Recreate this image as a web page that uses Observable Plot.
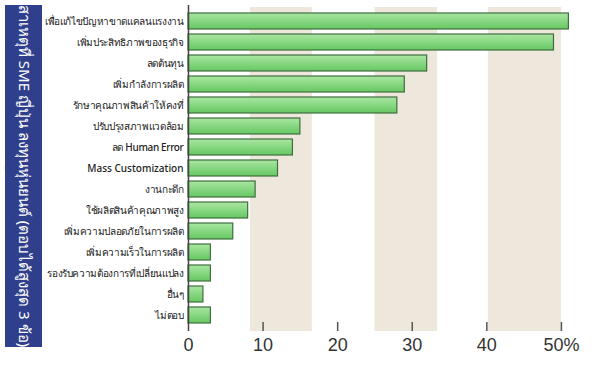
<!DOCTYPE html>
<html><head><meta charset="utf-8">
<script src="https://cdn.jsdelivr.net/npm/d3@7"></script>
<script src="https://cdn.jsdelivr.net/npm/@observablehq/plot@0.6"></script>
<style>
body{margin:0;background:#fff;}
#wrap{position:relative;width:600px;height:366px;}
#side{position:absolute;left:5px;top:5px;width:37px;height:342px;background:#2f3f8c;}
#side span{position:absolute;left:50%;top:50%;transform:translate(-50%,-50%) rotate(90deg);white-space:nowrap;color:#fff;font:15px "Noto Sans", sans-serif;}
</style></head>
<body><div id="wrap"><div id="chart"></div><div id="side"><span>สาเหตุที่ SME ญี่ปุ่น ลงทุนหุ่นยนต์ (ตอบได้สูงสุด 3 ข้อ)</span></div></div>
<script>
const categories = ["เพื่อแก้ไขปัญหาขาดแคลนแรงงาน","เพิ่มประสิทธิภาพของธุรกิจ","ลดต้นทุน","เพิ่มกำลังการผลิต","รักษาคุณภาพสินค้าให้คงที่","ปรับปรุงสภาพแวดล้อม","ลด Human Error","Mass Customization","งานกะดึก","ใช้ผลิตสินค้าคุณภาพสูง","เพิ่มความปลอดภัยในการผลิต","เพิ่มความเร็วในการผลิต","รองรับความต้องการที่เปลี่ยนแปลง","อื่นๆ","ไม่ตอบ"];
const values = [51,49,32,29,28,15,14,12,9,8,6,3,3,2,3];
const bandStarts = [8.3,25,40.2];
const bandEnds = [16.6,33.4,50];
const tickValues = [0,10,20,30,40,50];
const tickLabels = ["0","10","20","30","40","50%"];

const data = categories.map((c,i)=>({c,v:values[i]}));
const bands = bandStarts.map((s,i)=>({x1:s,x2:bandEnds[i]}));
const H = 366, mT = 5, mB = 35;
const frameH = H - mT - mB;

const chart = Plot.plot({
  width:600, height:H,
  marginLeft:188, marginRight:7, marginTop:mT, marginBottom:mB,
  style:{fontFamily:"'Noto Sans', sans-serif", background:"#fff", overflow:"visible"},
  x:{domain:[0,54.3], axis:null},
  y:{domain:categories, axis:null, padding:0.26},
  marks:[
    Plot.rectX(bands,{x1:"x1",x2:"x2",fill:"#ede8db",insetTop:2}),
    Plot.barX(data,{x:"v",y:"c",fill:"url(#bargrad)",stroke:"#3f6e3f",strokeWidth:1.2}),
    Plot.ruleX([0],{stroke:"#444",strokeWidth:1.5}),
    Plot.ruleX(tickValues.slice(1),{stroke:"#555",strokeWidth:1.5,insetTop:frameH-9}),
    Plot.ruleY([0],{frameAnchor:"bottom",x1:0,x2:54.3,stroke:"#555",strokeWidth:1.5}),
    Plot.axisY({tickSize:0,tickPadding:5,fontSize:10,fontWeight:500,fill:"#222"}),
    Plot.axisX({ticks:tickValues,tickSize:0,tickPadding:7,tickFormat:d=>tickLabels[tickValues.indexOf(d)],fontSize:18,fill:"#333",label:null,fontFamily:"'Liberation Sans', sans-serif"})
  ]
});
const defs = document.createElementNS("http://www.w3.org/2000/svg","defs");
defs.innerHTML = '<linearGradient id="bargrad" x1="0" y1="0" x2="0" y2="1"><stop offset="0" stop-color="#a9e6a2"/><stop offset="1" stop-color="#66c862"/></linearGradient>';
chart.insertBefore(defs, chart.firstChild);
chart.querySelectorAll('g[aria-label="y-axis tick label"] text').forEach(t=>{
  if (/[\u0E00-\u0E7F]/.test(t.textContent)) t.setAttribute("letter-spacing","-0.35");
});
document.getElementById("chart").appendChild(chart);
</script></body></html>
